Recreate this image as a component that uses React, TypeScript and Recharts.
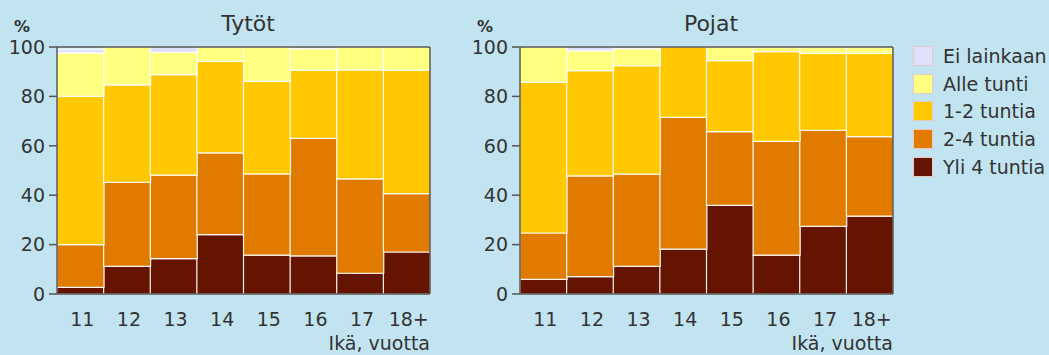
import React from 'react';
import { BarChart, Bar, XAxis, YAxis } from 'recharts';

const ages = ['11', '12', '13', '14', '15', '16', '17', '18+'];
const yTicks = [0, 20, 40, 60, 80, 100];

const seriesKeys = ['yli4', 'h24', 'h12', 'alle', 'ei'];
const seriesNames = ['Yli 4 tuntia', '2-4 tuntia', '1-2 tuntia', 'Alle tunti', 'Ei lainkaan'];
const seriesColors = ['#641400', '#E07B00', '#FFC800', '#FFFF80', '#E0E0FF'];

const girlsYli4 = [2.7, 11.2, 14.3, 24.0, 15.7, 15.4, 8.4, 17.0];
const girls2to4 = [17.3, 34.0, 33.8, 33.1, 32.9, 47.6, 38.2, 23.6];
const girls1to2 = [60.0, 39.5, 40.7, 37.1, 37.5, 27.6, 44.1, 50.0];
const girlsAlle = [17.6, 15.3, 9.0, 5.8, 13.9, 8.7, 9.3, 9.4];
const girlsEi = [1.5, 0, 2.2, 0, 0, 0.7, 0, 0];

const boysYli4 = [5.9, 7.0, 11.2, 18.2, 35.9, 15.7, 27.4, 31.5];
const boys2to4 = [18.8, 40.8, 37.3, 53.3, 29.8, 46.1, 38.9, 32.2];
const boys1to2 = [61.0, 42.6, 43.9, 28.5, 28.8, 36.3, 31.1, 33.7];
const boysAlle = [14.3, 8.1, 6.9, 0, 5.5, 1.9, 2.6, 2.6];
const boysEi = [0, 1.5, 0.7, 0, 0, 0, 0, 0];

const build = (cols: number[][]) =>
  ages.map((age, i) => {
    const row: any = { age };
    seriesKeys.forEach((k, j) => (row[k] = cols[j][i]));
    return row;
  });

const girlsData = build([girlsYli4, girls2to4, girls1to2, girlsAlle, girlsEi]);
const boysData = build([boysYli4, boys2to4, boys1to2, boysAlle, boysEi]);

const FONT = '"DejaVu Sans", Verdana, sans-serif';
const AXIS = '#555555';
const TEXT = '#333333';

function Panel({ data, title, left }: { data: any[]; title: string; left: number }) {
  return (
    <div style={{ position: 'absolute', left, top: 0, width: 440, height: 355 }}>
      <BarChart
        width={440}
        height={355}
        data={data}
        margin={{ top: 46, right: 9, bottom: 21, left: 0 }}
        barCategoryGap={0}
      >
        <XAxis
          dataKey="age"
          height={40}
          interval={0}
          axisLine={{ stroke: AXIS, strokeWidth: 1.5 }}
          tickLine={false}
          tickMargin={13}
          tick={{ fill: TEXT, fontSize: 19, fontFamily: FONT, dx: 2 }}
        />
        <XAxis
          xAxisId="top"
          orientation="top"
          dataKey="age"
          height={1}
          tick={false}
          tickLine={false}
          axisLine={{ stroke: AXIS, strokeWidth: 1.5 }}
        />
        <YAxis
          domain={[0, 100]}
          ticks={yTicks}
          width={57}
          tickSize={8}
          tickMargin={4}
          axisLine={{ stroke: AXIS, strokeWidth: 1.5 }}
          tickLine={{ stroke: AXIS, strokeWidth: 1.5 }}
          tick={{ fill: TEXT, fontSize: 19, fontFamily: FONT }}
        />
        <YAxis
          yAxisId="right"
          orientation="right"
          domain={[0, 100]}
          width={1}
          tick={false}
          tickLine={false}
          axisLine={{ stroke: AXIS, strokeWidth: 1.5 }}
        />
        {seriesKeys.map((k, j) => (
          <Bar
            key={k}
            dataKey={k}
            name={seriesNames[j]}
            stackId="s"
            fill={seriesColors[j]}
            stroke="#ffffff"
            strokeOpacity={0.9}
            strokeWidth={1.2}
            isAnimationActive={false}
          />
        ))}
      </BarChart>
      <svg
        width={440}
        height={355}
        style={{ position: 'absolute', left: 0, top: 0, pointerEvents: 'none' }}
      >
        <text x={248} y={31} textAnchor="middle" fontSize={22} fontFamily={FONT} fill={TEXT}>
          {title}
        </text>
        <text x={14} y={32} fontSize={16} fontWeight="bold" fontFamily={FONT} fill={TEXT}>
          %
        </text>
        <text x={430} y={350} textAnchor="end" fontSize={19} fontFamily={FONT} fill={TEXT}>
          Ikä, vuotta
        </text>
      </svg>
    </div>
  );
}

export default function App() {
  const legendOrder = [...seriesKeys.keys()].reverse();
  return (
    <div
      style={{
        position: 'absolute',
        left: 0,
        top: 0,
        width: 1049,
        height: 355,
        background: '#C1E4F0',
        overflow: 'hidden',
      }}
    >
      <Panel data={girlsData} title="Tytöt" left={0} />
      <Panel data={boysData} title="Pojat" left={463} />
      <div style={{ position: 'absolute', left: 913, top: 42 }}>
        {legendOrder.map((j) => (
          <div key={j} style={{ display: 'flex', alignItems: 'center', height: 27.8 }}>
            <div
              style={{
                width: 18,
                height: 18,
                background: seriesColors[j],
                border: '1px solid #E8C8C0',
              }}
            />
            <span
              style={{
                marginLeft: 10,
                fontSize: 19,
                fontFamily: FONT,
                color: TEXT,
                whiteSpace: 'nowrap',
              }}
            >
              {seriesNames[j]}
            </span>
          </div>
        ))}
      </div>
    </div>
  );
}
